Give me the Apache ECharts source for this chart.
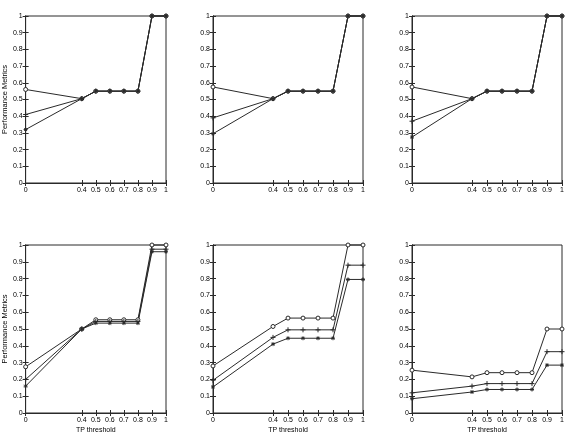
<!DOCTYPE html>
<html>
<head>
<meta charset="UTF-8">
<title>TP threshold</title>
<script src="https://cdn.jsdelivr.net/npm/echarts@6/dist/echarts.min.js"></script>
<style>
  html, body { margin: 0; padding: 0; background: #fff; }
  #main { width: 570px; height: 438px; }
</style>
</head>
<body>
<div id="main"></div>
<script>
// thresholds along the x axis
var thresholds = [0, 0.4, 0.5, 0.6, 0.7, 0.8, 0.9, 1];
var xTicks = [0, 0.4, 0.5, 0.6, 0.7, 0.8, 0.9, 1];
var yTicks = [0, 0.1, 0.2, 0.3, 0.4, 0.5, 0.6, 0.7, 0.8, 0.9, 1];
var yLabel = 'Performance Metrics';
var xLabel = 'TP threshold';

// panel data: three curves per panel (o, +, *)
var p1o = [0.56, 0.505, 0.55, 0.55, 0.55, 0.55, 1, 1];
var p1p = [0.41, 0.505, 0.55, 0.55, 0.55, 0.55, 1, 1];
var p1s = [0.32, 0.505, 0.55, 0.55, 0.55, 0.55, 1, 1];

var p2o = [0.575, 0.505, 0.55, 0.55, 0.55, 0.55, 1, 1];
var p2p = [0.39, 0.505, 0.55, 0.55, 0.55, 0.55, 1, 1];
var p2s = [0.295, 0.505, 0.55, 0.55, 0.55, 0.55, 1, 1];

var p3o = [0.575, 0.505, 0.55, 0.55, 0.55, 0.55, 1, 1];
var p3p = [0.37, 0.505, 0.55, 0.55, 0.55, 0.55, 1, 1];
var p3s = [0.275, 0.505, 0.55, 0.55, 0.55, 0.55, 1, 1];

var p4o = [0.275, 0.5, 0.555, 0.555, 0.555, 0.555, 1, 1];
var p4p = [0.2, 0.5, 0.545, 0.545, 0.545, 0.545, 0.975, 0.975];
var p4s = [0.16, 0.5, 0.535, 0.535, 0.535, 0.535, 0.96, 0.96];

var p5o = [0.28, 0.515, 0.565, 0.565, 0.565, 0.565, 1, 1];
var p5p = [0.195, 0.45, 0.495, 0.495, 0.495, 0.495, 0.88, 0.88];
var p5s = [0.155, 0.41, 0.445, 0.445, 0.445, 0.445, 0.795, 0.795];

var p6o = [0.255, 0.215, 0.24, 0.24, 0.24, 0.24, 0.5, 0.5];
var p6p = [0.12, 0.16, 0.175, 0.175, 0.175, 0.175, 0.365, 0.365];
var p6s = [0.085, 0.125, 0.14, 0.14, 0.14, 0.14, 0.285, 0.285];

var panels = [[p1o, p1p, p1s], [p2o, p2p, p2s], [p3o, p3p, p3s],
              [p4o, p4p, p4s], [p5o, p5p, p5s], [p6o, p6p, p6s]];

var lineCol = '#2a2a2a';
var fontFam = 'Liberation Sans, Arial, sans-serif';
var symbols = [
  'circle',
  'path://M5,0L5,10M0,5L10,5',
  'path://M5,0L5,10M0,5L10,5M1.5,1.5L8.5,8.5M8.5,1.5L1.5,8.5'
];
var symSizes = [4, 5, 4];

var lefts = [15, 213, 412];
var widths = [151, 150, 150];
var tops = [16, 245];
var heights = [167, 168];

var grids = [], xAxes = [], yAxes = [], series = [];

function pairs(vals) {
  return thresholds.map(function (x, i) { return [x, vals[i]]; });
}

for (var k = 0; k < 6; k++) {
  var row = Math.floor(k / 3), col = k % 3;
  grids.push({
    left: lefts[col], top: tops[row], width: widths[col], height: heights[row],
    show: true, borderColor: lineCol, borderWidth: 1, backgroundColor: '#fff'
  });
  var xa = {
    type: 'value', gridIndex: k, min: 0, max: 1, position: 'bottom',
    axisLine: { show: true, lineStyle: { color: lineCol, width: 1 } },
    axisTick: { show: true, inside: true, length: 3, customValues: xTicks, lineStyle: { color: lineCol } },
    axisLabel: { show: true, customValues: xTicks, fontSize: 7, color: '#000', fontFamily: fontFam, margin: 4 },
    splitLine: { show: false }
  };
  if (row === 1) {
    xa.name = xLabel;
    xa.nameLocation = 'middle';
    xa.nameGap = 14;
    xa.nameTextStyle = { fontSize: 7, color: '#000', fontFamily: fontFam };
  }
  xAxes.push(xa);
  xAxes.push({
    type: 'value', gridIndex: k, min: 0, max: 1, position: 'top',
    axisLine: { show: true, lineStyle: { color: lineCol, width: 1 } },
    axisTick: { show: true, inside: true, length: 3, customValues: xTicks, lineStyle: { color: lineCol } },
    axisLabel: { show: false }, splitLine: { show: false }
  });
  var ya = {
    type: 'value', gridIndex: k, min: 0, max: 1, position: 'left',
    axisLine: { show: true, lineStyle: { color: lineCol, width: 1 } },
    axisTick: { show: true, inside: true, length: 3, customValues: yTicks, lineStyle: { color: lineCol } },
    axisLabel: { show: true, customValues: yTicks, fontSize: 7, color: '#000', fontFamily: fontFam, margin: 3 },
    splitLine: { show: false }
  };
  if (col === 0) {
    ya.name = yLabel;
    ya.nameLocation = 'middle';
    ya.nameGap = 11;
    ya.nameTextStyle = { fontSize: 7.5, color: '#000', fontFamily: fontFam };
  }
  yAxes.push(ya);
  yAxes.push({
    type: 'value', gridIndex: k, min: 0, max: 1, position: 'right',
    axisLine: { show: true, lineStyle: { color: lineCol, width: 1 } },
    axisTick: { show: true, inside: true, length: 3, customValues: yTicks, lineStyle: { color: lineCol } },
    axisLabel: { show: false }, splitLine: { show: false }
  });
  for (var s = 0; s < 3; s++) {
    series.push({
      type: 'line', xAxisIndex: 2 * k, yAxisIndex: 2 * k,
      data: pairs(panels[k][s]),
      symbol: symbols[s], symbolSize: symSizes[s], showSymbol: true,
      clip: false, animation: false,
      lineStyle: { color: lineCol, width: 1 },
      itemStyle: { color: s === 0 ? '#fff' : 'none', borderColor: lineCol, borderWidth: 1 }
    });
  }
}

var chart = echarts.init(document.getElementById('main'));
chart.setOption({
  backgroundColor: '#fff',
  animation: false,
  grid: grids,
  xAxis: xAxes,
  yAxis: yAxes,
  series: series
});
</script>
</body>
</html>
